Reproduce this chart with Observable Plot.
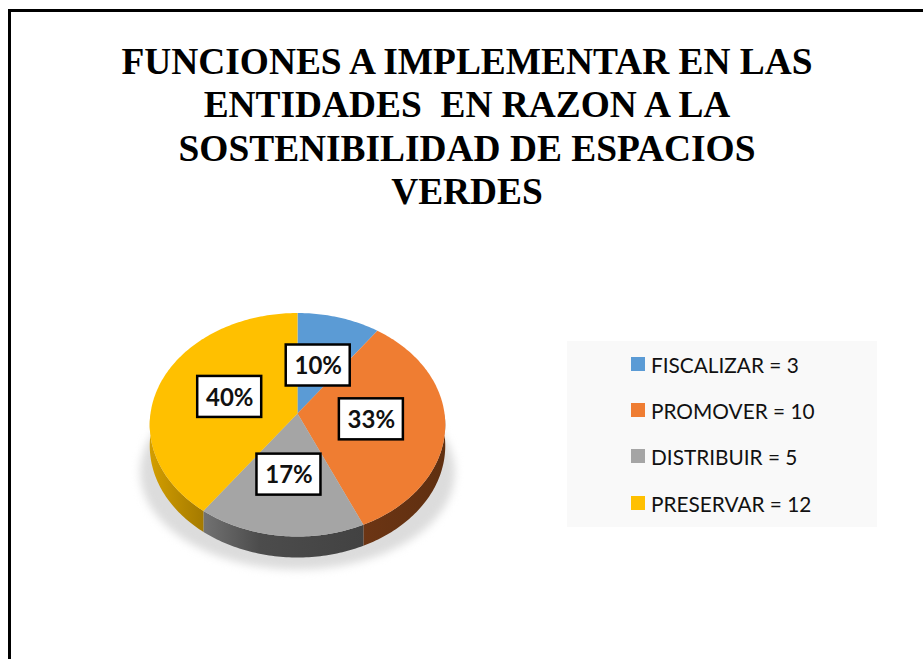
<!DOCTYPE html>
<html><head><meta charset="utf-8">
<script src="https://cdn.jsdelivr.net/npm/d3@7"></script>
<script src="https://cdn.jsdelivr.net/npm/@observablehq/plot@0.6"></script>
<style>
html,body{margin:0;padding:0;background:#fff}
#page{position:relative;width:923px;height:659px;overflow:hidden}
#frame{position:absolute;left:8px;top:9px;width:1000px;height:800px;border:3px solid #000;box-sizing:border-box}
#title{position:absolute;left:67px;top:40px;width:800px;text-align:center;font:bold 37.4px/43.4px "Liberation Serif",serif;color:#000;white-space:nowrap}
#chart{position:absolute;left:0;top:0}
#chart svg{display:block;background:transparent}
#legend{position:absolute;left:567px;top:341px;width:310px;height:186px;background:#f9f9f9;font:20.8px "Lato",sans-serif;color:#111}
.row{position:absolute;left:64px;height:24px;display:flex;align-items:center;white-space:nowrap}
.sw{width:14px;height:14px;margin-right:6px;flex:none}
</style></head>
<body><div id="page"><div id="frame"></div><div id="chart"></div>
<div id="title">FUNCIONES A IMPLEMENTAR EN LAS<br>ENTIDADES&nbsp; EN RAZON A LA<br>SOSTENIBILIDAD DE ESPACIOS<br>VERDES</div>
<div id="legend"></div></div>
<script>
const categories = ["FISCALIZAR","PROMOVER","DISTRIBUIR","PRESERVAR"];
const counts = [3,10,5,12];
const percentLabels = ["10%","33%","17%","40%"];
const colors = ["#5b9bd5","#ef7d32","#a5a5a5","#ffc000"];

const total = d3.sum(counts);
const persp = 0.1007, depth = 0.19;   // perspective of the tilted disc and rim height
const pt = (deg, dy = 0) => { const r = deg*Math.PI/180, u = Math.sin(r), v = Math.cos(r), w = 1 + persp*v;
  return {x: u/w, y: v/w - dy}; };
const arc = (a, b, dy = 0) => d3.range(a, b, 1).concat(b).map(d => pt(d, dy));
let cum = 0;
const slices = categories.map((c,i) => { const a = cum/total*360; cum += counts[i]; return {c, i, a, b: cum/total*360}; });

const tops = slices.flatMap(s => [{x:0,y:0}, ...arc(s.a,s.b)].map(p => ({...p, cat:s.c})));
const side = (a,b) => [...arc(a,b), ...arc(a,b,depth).reverse()];
const labels = slices.map((s,i) => { const m = pt((s.a+s.b)/2);
  return {x: m.x*0.5, y: m.y*0.5, t: percentLabels[i]}; });
const hw = 32/147, hh = 20.5/110.6;

const defs = () => {
  const d = d3.create("svg:defs");
  const grad = (id, stops) => { const g = d.append("linearGradient").attr("id", id);
    stops.forEach(([o,c]) => g.append("stop").attr("offset",o).attr("stop-color",c)); };
  grad("gGray", [[0,"#727272"],[0.35,"#4c4c4c"],[1,"#424242"]]);
  grad("gYellow", [[0,"#d39e00"],[1,"#a47a00"]]);
  grad("gOrange", [[0,"#6c3514"],[1,"#5f2f10"]]);
  return d.node();
};
const line = (pts, o) => Plot.line(pts, {x:"x", y:"y", stroke:null, ...o});

const plot = Plot.plot({
  width:923, height:659, margin:0, style:{background:"transparent"},
  x:{domain:[-1,1], range:[150,444], axis:null},
  y:{domain:[1,-1], range:[302.4,523.6], axis:null},
  color:{domain:categories, range:colors},
  marks:[
    defs,
    line(d3.range(0,361,3).map(d => { const r=d*Math.PI/180; return {x:Math.sin(r)*1.07, y:Math.cos(r)*0.88-0.53}; }),
      {fill:"#dcdcdc", imageFilter:"blur(4px)"}),
    line(side(90,156), {fill:"url(#gOrange)"}),
    line(side(156,216), {fill:"url(#gGray)"}),
    line(side(216,270), {fill:"url(#gYellow)"}),
    line(tops, {fill:"cat", z:"cat"}),
    Plot.rect(labels, {x1:d=>d.x-hw, x2:d=>d.x+hw, y1:d=>d.y-hh, y2:d=>d.y+hh, fill:"#fff", stroke:"#000", strokeWidth:2.5}),
    Plot.text(labels, {x:"x", y:"y", dy:1, text:"t", fontFamily:"Lato", fontWeight:700, fontSize:24, fill:"#111"})
  ]
});
document.getElementById("chart").append(plot);

const legend = document.getElementById("legend");
const tops_ = [11, 57, 103, 150];
categories.forEach((c,i) => {
  const r = document.createElement("div"); r.className="row"; r.style.top = tops_[i]+"px";
  const s = document.createElement("span"); s.className="sw"; s.style.background = colors[i];
  const t = document.createElement("span"); t.textContent = `${c} = ${counts[i]}`;
  r.append(s,t); legend.append(r);
});
</script></body></html>
